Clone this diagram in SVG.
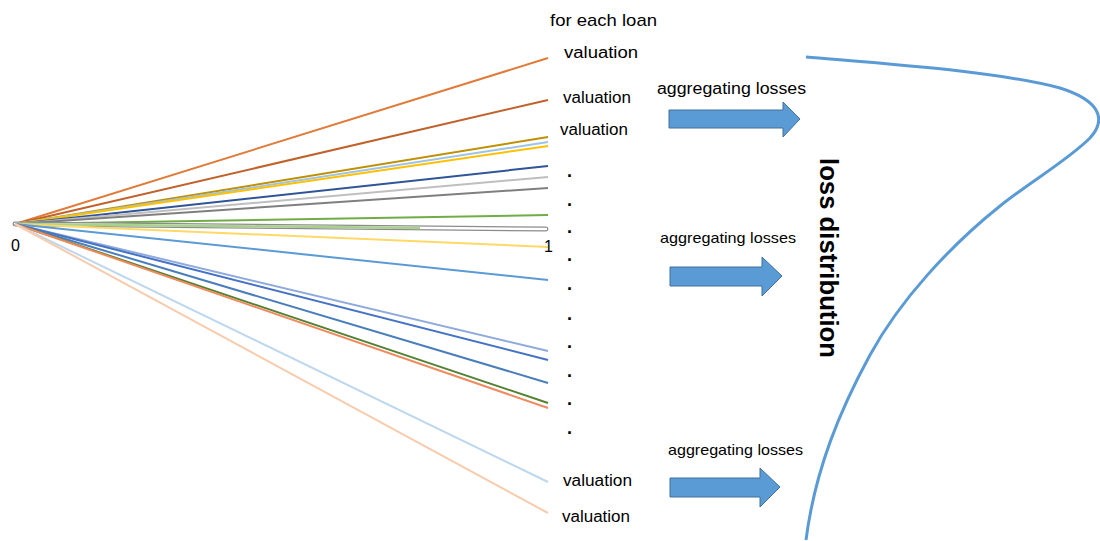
<svg xmlns="http://www.w3.org/2000/svg" width="1100" height="541" viewBox="0 0 1100 541">
<style>
.t{font-family:"Liberation Sans","Open Sans",sans-serif;fill:#000}
.v{font-size:16px}
.ag{font-size:15px}
.dot{font-size:18px;font-weight:bold}
.ln{fill:none;stroke-width:2}
.arr{fill:#5B9BD5;stroke:#41719C;stroke-width:1}
</style>
<rect width="1100" height="541" fill="#fff"/>
<g id="connectors">
<line class="ln" x1="15" y1="224" x2="548" y2="58" stroke="#E07B39"/>
<line class="ln" x1="15" y1="224" x2="548" y2="100" stroke="#C0622A"/>
<line class="ln" x1="15" y1="224" x2="548" y2="137" stroke="#BF9000"/>
<line class="ln" x1="15" y1="224" x2="548" y2="142" stroke="#9DC3E6"/>
<line class="ln" x1="15" y1="224" x2="548" y2="146" stroke="#FFC000"/>
<line class="ln" x1="15" y1="224" x2="548" y2="166" stroke="#2F5597"/>
<line class="ln" x1="15" y1="224" x2="548" y2="177" stroke="#BFBFBF"/>
<line class="ln" x1="15" y1="224" x2="548" y2="188" stroke="#7F7F7F"/>
<line class="ln" x1="15" y1="224" x2="548" y2="215" stroke="#70AD47"/>
<line x1="15" y1="224" x2="546" y2="229" stroke="#8C8C8C" stroke-width="5" stroke-linecap="round"/>
<line x1="15" y1="224" x2="546" y2="229" stroke="#fff" stroke-width="2.5" stroke-linecap="round"/>
<line x1="15" y1="224" x2="420" y2="228" stroke="#A9D18E" stroke-width="2.5"/>
<line class="ln" x1="15" y1="224" x2="548" y2="247" stroke="#FFD966"/>
<line class="ln" x1="15" y1="224" x2="548" y2="280" stroke="#5B9BD5"/>
<line class="ln" x1="15" y1="224" x2="548" y2="351" stroke="#8FAADC"/>
<line class="ln" x1="15" y1="224" x2="548" y2="360" stroke="#4472C4"/>
<line class="ln" x1="15" y1="224" x2="548" y2="383" stroke="#4A7EBB"/>
<line class="ln" x1="15" y1="224" x2="548" y2="403" stroke="#548235"/>
<line class="ln" x1="15" y1="224" x2="548" y2="408" stroke="#F08A5D"/>
<line class="ln" x1="15" y1="224" x2="548" y2="482" stroke="#BDD7EE"/>
<line class="ln" x1="15" y1="224" x2="548" y2="513" stroke="#F8CBAD"/>
</g>
<g id="axis-labels">
<text class="t" x="11" y="251" font-size="16">0</text>
<text class="t" x="544" y="252" font-size="16">1</text>
</g>
<g id="valuations">
<text class="t" x="550" y="26" font-size="17" textLength="107" lengthAdjust="spacingAndGlyphs">for each loan</text>
<text class="t v" x="564" y="58" textLength="74" lengthAdjust="spacingAndGlyphs">valuation</text>
<text class="t v" x="563" y="103" textLength="68" lengthAdjust="spacingAndGlyphs">valuation</text>
<text class="t v" x="560" y="135" textLength="68" lengthAdjust="spacingAndGlyphs">valuation</text>
<text class="t dot" x="567" y="177">.</text>
<text class="t dot" x="567" y="206">.</text>
<text class="t dot" x="567" y="233">.</text>
<text class="t dot" x="567" y="261">.</text>
<text class="t dot" x="567" y="290">.</text>
<text class="t dot" x="567" y="320">.</text>
<text class="t dot" x="567" y="348">.</text>
<text class="t dot" x="567" y="377">.</text>
<text class="t dot" x="567" y="405">.</text>
<text class="t dot" x="567" y="434">.</text>
<text class="t v" x="563" y="486" textLength="69" lengthAdjust="spacingAndGlyphs">valuation</text>
<text class="t v" x="562" y="522" textLength="68" lengthAdjust="spacingAndGlyphs">valuation</text>
</g>
<g id="aggregate-1">
<text class="t" x="657" y="94" font-size="16" textLength="149" lengthAdjust="spacingAndGlyphs">aggregating losses</text>
<path class="arr" d="M669,110 H783 V102 L800,119 L783,137 V128 H669 Z"/>
</g>
<g id="aggregate-2">
<text class="t ag" x="660" y="243" textLength="136" lengthAdjust="spacingAndGlyphs">aggregating losses</text>
<path class="arr" d="M670,267 H762 V257 L782,276 L762,296 V286 H670 Z"/>
</g>
<g id="aggregate-3">
<text class="t ag" x="668" y="455" textLength="135" lengthAdjust="spacingAndGlyphs">aggregating losses</text>
<path class="arr" d="M670,478 H760 V468 L780,487 L760,507 V497 H670 Z"/>
</g>
<g id="loss-distribution">
<path d="M806,57 C900,65 1000,72 1060,88 C1098,100 1108,118 1090,138 C1068,160 1030,182 1000,206 C950,246 900,300 870,355 C840,410 815,470 806,540" fill="none" stroke="#5B9BD5" stroke-width="3"/>
<text class="t" transform="translate(820,158) rotate(90)" font-size="26" font-weight="bold" textLength="200" lengthAdjust="spacingAndGlyphs">loss distribution</text>
</g>
</svg>
